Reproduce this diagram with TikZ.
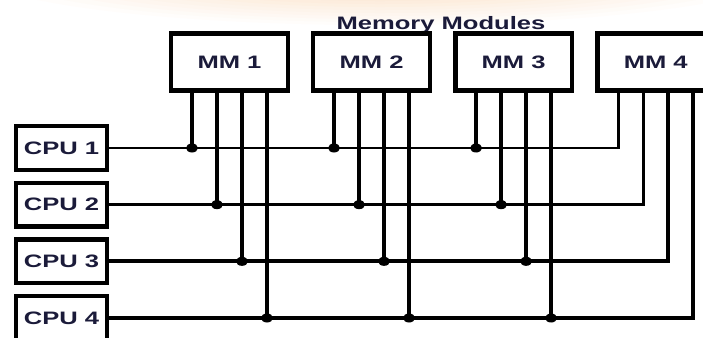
\documentclass[tikz,border=0pt]{standalone}
\usepackage{fontspec}
\setmainfont{Liberation Sans}
\usepackage{graphicx}
\usetikzlibrary{positioning,calc}
\definecolor{mmtext}{HTML}{1B1B3A}
\definecolor{mmglow}{HTML}{FCE9D6}
\newcommand{\widelabel}[1]{\scalebox{1.42}[1]{#1}}

\begin{document}
\begin{tikzpicture}[
  x=0.75pt,y=-0.75pt,
  node distance=6.4pt and 15.75pt,
  every node/.style={font=\fontsize{13.5}{16}\selectfont\bfseries,text=mmtext},
  unitbox/.style={rectangle,draw=black,line width=3.3pt,fill=white,inner sep=0pt},
  cpubox/.style={unitbox,minimum width=68pt,minimum height=32.8pt},
  mmbox/.style={unitbox,minimum width=87.5pt,minimum height=42.5pt},
  tap/.style={line width=3.4pt},
  bus/.style={line width=2pt},
  heavybus/.style={line width=2.8pt}
]
\useasboundingbox (0,0) rectangle (703,337);

%% ---- slide background and glow ----
\fill[white] (0,0) rectangle (703,337);
\begin{scope}
  \clip (0,0) rectangle (703,337);
  \foreach \k [evaluate=\k as \p using int(\k*10)] in {1,...,10}{
    \fill[mmglow!\p!white] (380,-30) ellipse [x radius={430-22*\k},y radius={58-3*\k}];
  }
\end{scope}

%% ---- memory modules ----
\node[anchor=base] (title) at (441,29) {\widelabel{Memory Modules}};
\node[mmbox] (mm1) at (229.5,62) {\widelabel{MM 1}};
\node[mmbox,right=of mm1] (mm2) {\widelabel{MM 2}};
\node[mmbox,right=of mm2] (mm3) {\widelabel{MM 3}};
\node[mmbox,right=of mm3] (mm4) {\widelabel{MM 4}};

%% ---- processors ----
\node[cpubox] (cpu1) at (61.5,148) {\widelabel{CPU 1}};
\node[cpubox,below=of cpu1] (cpu2) {\widelabel{CPU 2}};
\node[cpubox,below=of cpu2] (cpu3) {\widelabel{CPU 3}};
\node[cpubox,below=of cpu3] (cpu4) {\widelabel{CPU 4}};

%% ---- tap points under each module ----
\foreach \m in {1,...,4}{
  \foreach \c in {1,...,4}{
    \coordinate (t\m\c) at ($(mm\m.south west)+({23+25*(\c-1)},0)$);
  }
}

%% ---- buses: each CPU runs over to MM4 ----
\foreach \c/\w in {1/bus,2/bus,3/heavybus,4/heavybus}{
  \draw[\w] (cpu\c.east) -| (t4\c);
}

%% ---- links from MM1..MM3 ----
\foreach \m in {1,2,3}{
  \foreach \c in {1,...,4}{
    \draw[tap] (t\m\c) -- (t\m\c |- cpu\c.east);
    \fill (t\m\c |- cpu\c.east) ellipse [x radius=6,y radius=4.5];
  }
}

\end{tikzpicture}
\end{document}
